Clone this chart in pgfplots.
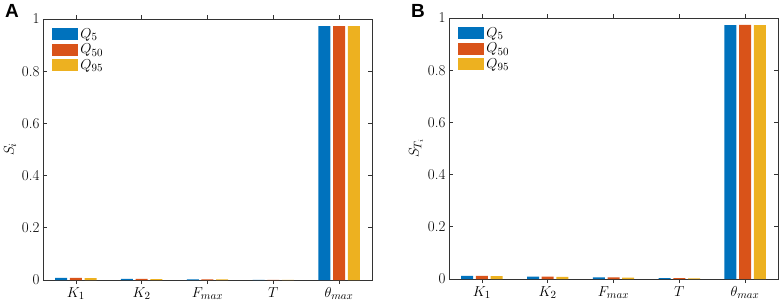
\documentclass[border=0pt]{standalone}
\usepackage{pgfplots}
\pgfplotsset{compat=1.18}
\usepackage{fontspec}
\newfontfamily\panelfont{Liberation Sans}
\definecolor{c1}{rgb}{0,0.447,0.741}
\definecolor{c2}{rgb}{0.85,0.325,0.098}
\definecolor{c3}{rgb}{0.929,0.694,0.125}
\pgfplotsset{
  mystyle/.style={
    scale only axis, width=329pt, height=261pt,
    xmin=0.5, xmax=5.5, ymin=0, ymax=1,
    xtick={1,2,3,4,5},
    xticklabels={$K_1$,$K_2$,$F_{max}$,$T$,$\theta_{max}$},
    ytick={0,0.2,0.4,0.6,0.8,1},
    yticklabels={0,0.2,0.4,0.6,0.8,1},
    tick align=inside, major tick length=4pt,
    axis line style={black!80, line width=0.7pt},
    tick style={black!80, line width=0.7pt},
    ticklabel style={font=\fontsize{15}{17}\selectfont},
    label style={font=\fontsize{15}{17}\selectfont},
    ybar, bar width=12pt,
    legend style={at={(0.025,0.975)}, anchor=north west, draw=none, fill=none,
      font=\fontsize{15}{17}\selectfont, row sep=0pt, inner sep=1pt,
      cells={anchor=west}},
    legend image code/.code={\fill[##1] (0pt,-6pt) rectangle (26pt,6pt);},
  }
}
\begin{document}
\begin{tikzpicture}[x=1pt,y=1pt]
\useasboundingbox (0,0) rectangle (782,301);
\begin{axis}[mystyle, at={(43pt,21pt)}, anchor=south west, ylabel={$S_i$},
  ylabel style={at={(axis description cs:-0.1,0.5)}, anchor=center}]
\addplot[fill=c1, draw=none, bar shift=-14.7pt] coordinates {(1,0.008) (2,0.004) (3,0.002) (4,0.0005) (5,0.973)};
\addplot[fill=c2, draw=none, bar shift=0pt] coordinates {(1,0.008) (2,0.004) (3,0.002) (4,0.0005) (5,0.973)};
\addplot[fill=c3, draw=none, bar shift=14.7pt] coordinates {(1,0.007) (2,0.003) (3,0.002) (4,0.0005) (5,0.973)};
\legend{$Q_5$,$Q_{50}$,$Q_{95}$}
\end{axis}
\node[font=\panelfont\bfseries\fontsize{19}{20}\selectfont, anchor=north west, inner sep=0pt] at (5,297) {A};
\begin{axis}[mystyle, at={(449pt,22pt)}, anchor=south west, ylabel={$S_{T_i}$},
  ylabel style={at={(axis description cs:-0.1,0.5)}, anchor=center}]
\addplot[fill=c1, draw=none, bar shift=-14.7pt] coordinates {(1,0.012) (2,0.009) (3,0.006) (4,0.003) (5,0.973)};
\addplot[fill=c2, draw=none, bar shift=0pt] coordinates {(1,0.012) (2,0.009) (3,0.006) (4,0.003) (5,0.974)};
\addplot[fill=c3, draw=none, bar shift=14.7pt] coordinates {(1,0.011) (2,0.008) (3,0.005) (4,0.002) (5,0.973)};
\legend{$Q_5$,$Q_{50}$,$Q_{95}$}
\end{axis}
\node[font=\panelfont\bfseries\fontsize{19}{20}\selectfont, anchor=north west, inner sep=0pt] at (411,297) {B};
\end{tikzpicture}
\end{document}
